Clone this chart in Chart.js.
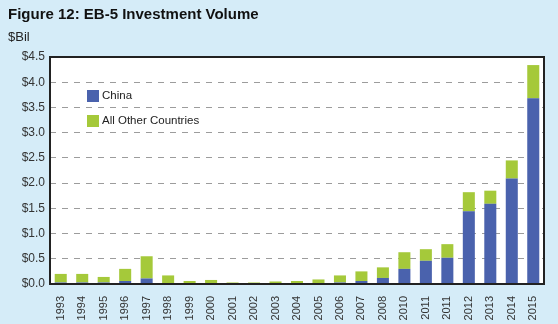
<!DOCTYPE html>
<html>
<head>
<meta charset="utf-8">
<script src="https://cdn.jsdelivr.net/npm/chart.js@4"></script>
<style>
    body { margin: 0; background: #d5ecf8; font-family: 'Liberation Sans', Arial, sans-serif; }
    #wrap { position: relative; width: 558px; height: 324px; }
    #title { position: absolute; left: 8px; top: 5px; font-size: 15px; font-weight: bold; color: #111; }
    #unit { position: absolute; left: 8px; top: 29px; font-size: 13px; color: #222; }
    canvas { position: absolute; left: 0; top: 0; }
</style>
</head>
<body>
<div id="wrap">
    <canvas id="main-chart" width="558" height="324"></canvas>
    <div id="title">Figure 12: EB-5 Investment Volume</div>
    <div id="unit">$Bil</div>
</div>
<script>
// Years as printed on the original (2009 is missing, 2011 appears twice)
const years = ['1993', '1994', '1995', '1996', '1997', '1998', '1999', '2000', '2001', '2002', '2003', '2004',
    '2005', '2006', '2007', '2008', '2010', '2011', '2011', '2012', '2013', '2014', '2015'];
// $ billions
const china = [0.03, 0.03, 0.03, 0.06, 0.11, 0.01, 0.00, 0.02, 0.00, 0.00, 0.00, 0.00,
    0.00, 0.03, 0.06, 0.12, 0.30, 0.46, 0.52, 1.44, 1.59, 2.09, 3.68];
const otherCountries = [0.17, 0.17, 0.11, 0.24, 0.44, 0.16, 0.06, 0.06, 0.03, 0.03, 0.05, 0.06,
    0.09, 0.14, 0.19, 0.21, 0.33, 0.23, 0.27, 0.38, 0.26, 0.36, 0.66];
const yTicks = [0, 0.5, 1, 1.5, 2, 2.5, 3, 3.5, 4, 4.5];

const chinaColor = '#4a62ad';
const otherColor = '#a5c93a';

// White plot area with a dark frame
const plotFrame = {
    id: 'plotFrame',
    beforeDraw(chart) {
        const { ctx, chartArea: a } = chart;
        ctx.save();
        ctx.fillStyle = '#ffffff';
        ctx.fillRect(a.left, a.top, a.right - a.left, a.bottom - a.top);
        ctx.restore();
    },
    afterDraw(chart) {
        const { ctx, chartArea: a } = chart;
        ctx.save();
        ctx.strokeStyle = '#222';
        ctx.lineWidth = 2;
        ctx.strokeRect(a.left, a.top, a.right - a.left, a.bottom - a.top);
        ctx.restore();
    }
};

// Legend drawn inside the plot, top-left
const innerLegend = {
    id: 'innerLegend',
    afterDatasetsDraw(chart) {
        const { ctx, chartArea: a } = chart;
        ctx.save();
        ctx.font = '11.5px "Liberation Sans", Arial, sans-serif';
        ctx.textBaseline = 'middle';
        chart.data.datasets.forEach((ds, i) => {
            const x = a.left + 37;
            const y = a.top + 39 + i * 25;
            ctx.fillStyle = ds.backgroundColor;
            ctx.fillRect(x, y - 6, 12, 12);
            ctx.fillStyle = '#222';
            ctx.fillText(ds.label, x + 15, y);
        });
        ctx.restore();
    }
};

const ctx = document.getElementById('main-chart').getContext('2d');
new Chart(ctx, {
    type: 'bar',
    data: {
        labels: years,
        datasets: [
            { label: 'China', data: china, backgroundColor: chinaColor, barPercentage: 0.56, categoryPercentage: 1 },
            { label: 'All Other Countries', data: otherCountries, backgroundColor: otherColor, barPercentage: 0.56, categoryPercentage: 1 }
        ]
    },
    options: {
        responsive: false,
        animation: false,
        layout: { padding: { top: 57, right: 14, left: 0, bottom: 0 } },
        plugins: { legend: { display: false }, tooltip: { enabled: false } },
        scales: {
            x: {
                stacked: true,
                grid: { display: false },
                border: { display: false },
                ticks: {
                    color: '#333', font: { size: 11, family: 'Liberation Sans' },
                    minRotation: 90, maxRotation: 90, padding: 4, autoSkip: false
                },
                afterFit: (s) => { s.height = 40; }
            },
            y: {
                stacked: true,
                min: 0,
                max: 4.5,
                afterBuildTicks: (s) => { s.ticks = yTicks.map(v => ({ value: v })); },
                grid: { color: '#9c9c9c', lineWidth: 1, drawTicks: false },
                border: { display: false, dash: [6, 6] },
                ticks: {
                    color: '#333', font: { size: 12, family: 'Liberation Sans' }, padding: 5,
                    callback: (v) => '$' + Number(v).toFixed(1)
                },
                afterFit: (s) => { s.width = 50; }
            }
        }
    },
    plugins: [plotFrame, innerLegend]
});
</script>
</body>
</html>
